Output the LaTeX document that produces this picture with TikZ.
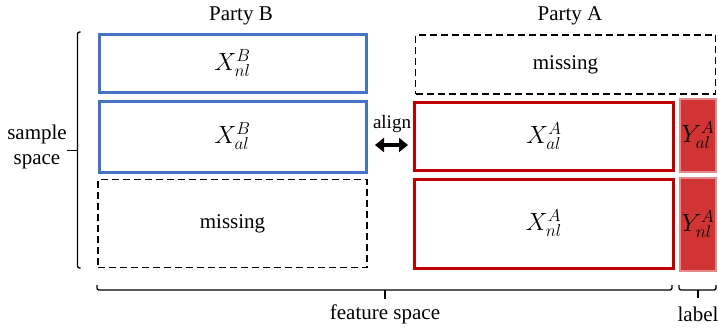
\documentclass[tikz,border=0pt]{standalone}
\usepackage{fontspec}
\setmainfont{Liberation Serif}
\usetikzlibrary{arrows.meta}
\definecolor{partyblue}{HTML}{4472C4}
\definecolor{partyred}{HTML}{C00000}
\definecolor{labelfill}{HTML}{D03434}
\definecolor{labelline}{HTML}{E58A8A}

\begin{document}
\begin{tikzpicture}[x=1pt, y=-1pt,
  font=\fontsize{21}{25}\selectfont,
  blockb/.style={draw=partyblue, line width=3pt, minimum width=267pt, inner sep=0pt, font=\fontsize{23}{27}\selectfont},
  blocka/.style={draw=partyred, line width=3pt, minimum width=259pt, inner sep=0pt, font=\fontsize{23}{27}\selectfont},
  missbox/.style={draw, dashed, dash pattern=on 7pt off 4pt, line width=1.4pt, inner sep=0pt},
  labelbox/.style={fill=labelfill, draw=labelline, line width=1.5pt, minimum width=36pt, inner sep=0pt, font=\fontsize{23}{27}\selectfont},
  brace/.style={line width=1.3pt, rounded corners=2pt}]
  \useasboundingbox (0,0) rectangle (718,327);

  % Party B blocks
  \node[blockb, minimum height=58pt] (bnl) at (232.5,63) {$X^B_{nl}$};
  \node[blockb, minimum height=71pt] (bal) at (232.5,136.5) {$X^B_{al}$};
  \node[missbox, minimum width=269pt, minimum height=88pt] (bmis) at (232.5,223.75) {missing};

  % Party A blocks
  \node[missbox, minimum width=300pt, minimum height=59pt] (amis) at (565.5,64.5) {missing};
  \node[blocka, minimum height=68pt] (aal) at (543.75,136.5) {$X^A_{al}$};
  \node[blocka, minimum height=89pt] (anl) at (543.75,223.5) {$X^A_{nl}$};
  \node[labelbox, minimum height=73pt] (yal) at (698,135.5) {$Y^A_{al}$};
  \node[labelbox, minimum height=93pt] (ynl) at (698,224.5) {$Y^A_{nl}$};

  % Titles
  \node (pb) at (241,16) {Party B};
  \node (pa) at (570,16) {Party A};

  % Alignment
  \node (aligntxt) at (392,124) {\fontsize{19}{22}\selectfont align};
  \coordinate (arl) at (375,145);
  \coordinate (arr) at (408,145);
  \draw[line width=4.5pt, {Triangle[length=9pt,width=14pt]}-{Triangle[length=9pt,width=14pt]}] (arl) -- (arr);

  % Sample space brace
  \draw[brace] (80.5,32) -- (77.5,32) -- (77.5,268) -- (80.5,268);
  \draw[line width=1.3pt] (77.5,150.5) -- (67,150.5);
  \node[align=center, inner sep=0pt] (ss) at (37,147) {sample\\space};

  % Feature space brace
  \draw[brace] (97,285) -- (97,290) -- (672,290) -- (672,285);
  \draw[line width=1.3pt] (385,290) -- (385,299);
  \node (fs) at (385,314) {feature space};

  % Label brace
  \draw[brace] (679,285) -- (679,290) -- (716,290) -- (716,285);
  \draw[line width=1.3pt] (698,290) -- (698,298);
  \node (lb) at (698,314) {label};
\end{tikzpicture}
\end{document}
